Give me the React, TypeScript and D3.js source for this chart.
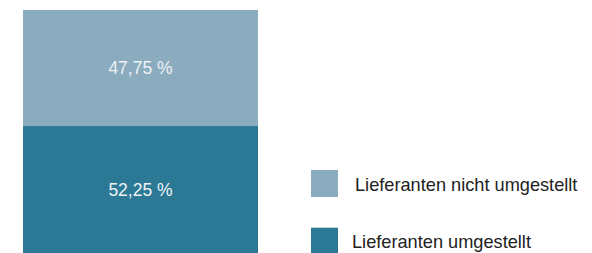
import { useEffect, useRef } from "react";
import * as d3 from "d3";

// ─── Data ────────────────────────────────────────────────────────────────────
const categories = ["Lieferanten umgestellt", "Lieferanten nicht umgestellt"];
const values = [52.25, 47.75];
const colors = ["#2b7995", "#8babbf"];
const legendOrder = ["Lieferanten nicht umgestellt", "Lieferanten umgestellt"];

const fmt = (v: number) => v.toFixed(2).replace(".", ",") + " %";

export default function App() {
  const svgRef = useRef<SVGSVGElement>(null);

  useEffect(() => {
    if (!svgRef.current) return;
    const height = 253;
    const svg = d3.select(svgRef.current);
    svg.selectAll("*").remove();

    // ── Scales ─────────────────────────────────────────────────────────────
    const x = d3.scaleBand().domain(["all"]).range([23, 258]).padding(0);
    const y = d3.scaleLinear().domain([0, 100]).range([height, 10]);
    const color = d3.scaleOrdinal<string, string>().domain(categories).range(colors);

    const stackData = [Object.fromEntries(categories.map((c, i) => [c, values[i]]))];
    const series = d3.stack<Record<string, number>>().keys(categories)(stackData);

    // ── Stacked bar ────────────────────────────────────────────────────────
    const g = svg.append("g");
    series.forEach((s) => {
      const d = s[0];
      g.append("rect")
        .attr("x", x("all")!)
        .attr("width", x.bandwidth())
        .attr("y", y(d[1]))
        .attr("height", y(d[0]) - y(d[1]))
        .attr("fill", color(s.key));
      g.append("text")
        .attr("x", x("all")! + x.bandwidth() / 2)
        .attr("y", (y(d[0]) + y(d[1])) / 2)
        .attr("dy", "0.36em")
        .attr("text-anchor", "middle")
        .attr("fill", "#eef2f5")
        .attr("font-size", 17.5)
        .text(fmt(d[1] - d[0]));
    });

    // ── Legend ─────────────────────────────────────────────────────────────
    const ly = d3.scalePoint().domain(legendOrder).range([170, 227.7]);
    const lg = svg.append("g");
    legendOrder.forEach((name) => {
      lg.append("rect")
        .attr("x", 311)
        .attr("y", ly(name)!)
        .attr("width", 27)
        .attr("height", 27)
        .attr("fill", color(name));
      lg.append("text")
        .attr("x", name === legendOrder[0] ? 355 : 352)
        .attr("y", ly(name)! + 14)
        .attr("dy", "0.36em")
        .attr("fill", "#222")
        .attr("font-size", 18.2)
        .text(name);
    });
  }, []);

  return (
    <svg
      ref={svgRef}
      width={592}
      height={253}
      style={{ position: "absolute", left: 0, top: 0, fontFamily: "'Liberation Sans', Arial, sans-serif" }}
    />
  );
}
